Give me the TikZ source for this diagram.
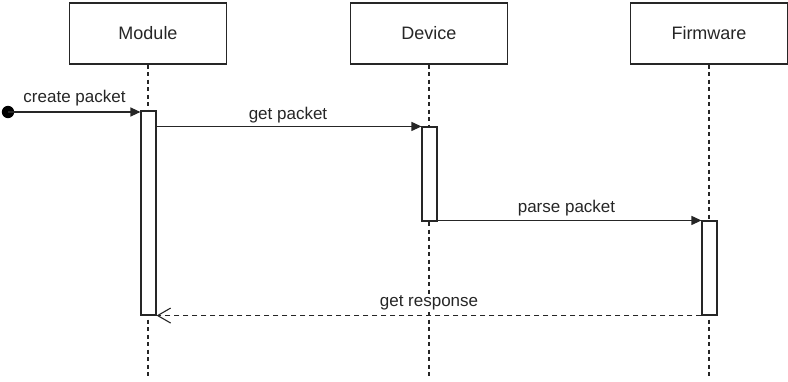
\documentclass[tikz,border=0pt]{standalone}
\usepackage{fontspec}
\setmainfont{Liberation Sans}
\usetikzlibrary{arrows.meta,calc}
\begin{document}
\begin{tikzpicture}[x=1pt,y=-1pt,
  lane/.style={draw=black!85,line width=1.1pt,fill=white,minimum width=157pt,minimum height=61pt,inner sep=0pt,font=\fontsize{18}{20}\selectfont,text=black!85},
  actbar/.style={draw=black!85,line width=1.1pt,fill=white,minimum width=15pt,inner sep=0pt},
  life/.style={draw=black!85,line width=1.2pt,dash pattern=on 4pt off 3.5pt},
  msg/.style={draw=black!85,line width=1.2pt,-{Triangle[length=10pt,width=9pt]}},
  ret/.style={draw=black!85,line width=1.2pt,dash pattern=on 5pt off 4pt,-{Straight Barb[length=13pt,width=15pt,line width=1.1pt]}},
  lbl/.style={font=\fontsize{17}{19}\selectfont,text=black!85,anchor=base,inner sep=0pt}]
\useasboundingbox (0,0) rectangle (788,381);
% lifeline heads
\node[lane] (module) at (148,33.5) {Module};
\node[lane] (device) at (429,33.5) {Device};
\node[lane] (firmware) at (709,33.5) {Firmware};
% lifelines
\coordinate (mend) at (148,378);
\coordinate (dend) at (429,378);
\coordinate (fend) at (709,378);
\draw[life] (module.south) -- (mend);
\draw[life] (device.south) -- (dend);
\draw[life] (firmware.south) -- (fend);
% activations
\node[actbar,minimum height=204pt] (modact) at (148.5,213) {};
\node[actbar,minimum height=94pt] (devact) at (429.5,174) {};
\node[actbar,minimum height=94pt] (fwact) at (709.5,268) {};
% messages
\coordinate (start) at (8,112);
\fill[black] (start) circle (6.2pt);
\draw[msg] (start) -- (start -| modact.west);
\node[lbl] (l1) at (74.5,102) {create packet};
\draw[msg] (modact.east |- devact.north) -- (devact.north west);
\node[lbl] (l2) at (288,119) {get packet};
\draw[msg] (devact.east |- fwact.north) -- (fwact.north west);
\node[lbl] (l3) at (566.5,212) {parse packet};
\draw[ret] (fwact.south west) -- (fwact.south west -| modact.east);
\node[lbl,fill=white] (l4) at (429,306) {get response};
\end{tikzpicture}
\end{document}
